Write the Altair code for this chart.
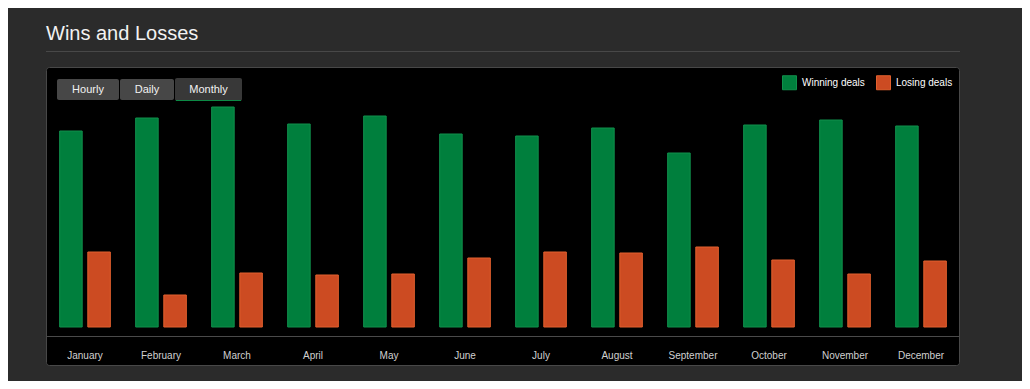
import altair as alt
import pandas as pd

months = ["January", "February", "March", "April", "May", "June",
          "July", "August", "September", "October", "November", "December"]
series = ["Winning deals", "Losing deals"]
winning = [196, 209, 220, 203, 211, 193, 191, 199, 174, 202, 207, 201]
losing = [75, 32, 54, 52, 53, 69, 75, 74, 80, 67, 53, 66]
buttons = ["Hourly", "Daily", "Monthly"]
title_text = "Wins and Losses"

GREEN = "#007f3d"
ORANGE = "#cc4b22"
GREEN_EDGE = "#10904c"
ORANGE_EDGE = "#e2602e"
FONT = "Liberation Sans"

rows = []
for m, w, l in zip(months, winning, losing):
    rows.append({"month": m, "type": series[0], "value": w})
    rows.append({"month": m, "type": series[1], "value": l})
df = pd.DataFrame(rows)

one = alt.Data(values=[{"k": 1}])

def rect(x, x2, y, y2, fill, stroke=None, radius=0):
    kw = dict(fill=fill, cornerRadius=radius)
    if stroke:
        kw["stroke"] = stroke
        kw["strokeWidth"] = 1
    return alt.Chart(one).mark_rect(**kw).encode(
        x=alt.value(x), x2=alt.value(x2), y=alt.value(y), y2=alt.value(y2))

def rule(x, x2, y, color):
    return alt.Chart(one).mark_rule(color=color, strokeWidth=1).encode(
        x=alt.value(x), x2=alt.value(x2), y=alt.value(y))

def label(text, x, y, size, color, align="center", baseline="middle"):
    return alt.Chart(one).mark_text(
        text=text, font=FONT, fontSize=size, color=color,
        align=align, baseline=baseline).encode(x=alt.value(x), y=alt.value(y))

layers = [
    label(title_text, -1, -47.5, 20, "#f2f2f2", align="left", baseline="alphabetic"),
    rule(-1, 913, -35.5, "#484848"),
    rect(-0.5, 912.5, -19.5, 278.5, "#000000", stroke="#484848", radius=3),
    rule(-1, 912, 249.5, "#4a4a4a"),
]

# buttons
btn_geom = [(10, 72, -8, 13, "#474747"), (73, 127, -8, 13, "#474747"), (128, 195, -9, 14, "#383838")]
for name, (bx, bx2, by, by2, bf) in zip(buttons, btn_geom):
    layers.append(rect(bx, bx2, by, by2, bf, radius=2))
    layers.append(label(name, (bx + bx2) / 2, (by + by2) / 2 + 0.5, 11, "#f2f2f2"))
layers.append(rule(129, 194, 13.5, "#0c8a45"))

legend_kw = dict(title=None, orient="none", legendX=735, legendY=-12,
                 direction="horizontal", symbolType="square",
                 symbolSize=196, symbolStrokeWidth=1,
                 labelFont=FONT, labelFontSize=10, labelColor="#ffffff",
                 labelOffset=5, columnPadding=9, padding=0)

bars = alt.Chart(df).mark_bar(strokeWidth=1, cornerRadius=0, strokeJoin="miter").encode(
    x=alt.X("month:N", sort=months,
            scale=alt.Scale(paddingInner=0, paddingOuter=0),
            axis=alt.Axis(title=None, domain=False, ticks=False, labelAngle=0,
                          labelFont=FONT, labelFontSize=10, labelColor="#d0d0d0",
                          labelPadding=23, grid=False, zindex=1)),
    xOffset=alt.XOffset("type:N", sort=series,
                        scale=alt.Scale(paddingInner=0.2, paddingOuter=0.45)),
    y=alt.Y("value:Q", scale=alt.Scale(domain=[0, 240]), axis=None),
    color=alt.Color("type:N", sort=series,
                    scale=alt.Scale(domain=series, range=[GREEN, ORANGE]),
                    legend=alt.Legend(**legend_kw)),
    stroke=alt.Stroke("type:N", sort=series,
                      scale=alt.Scale(domain=series, range=[GREEN_EDGE, ORANGE_EDGE]),
                      legend=alt.Legend(**legend_kw)),
)
layers.append(bars)

chart = alt.layer(*layers).properties(
    width=912, height=240, background="#2b2b2b",
    padding={"left": 39, "right": 63, "top": 79, "bottom": 54},
    autosize=alt.AutoSizeParams(type="none"),
).configure_view(stroke=None)

chart.save("out.html", embed_options={"renderer": "svg", "actions": False})
